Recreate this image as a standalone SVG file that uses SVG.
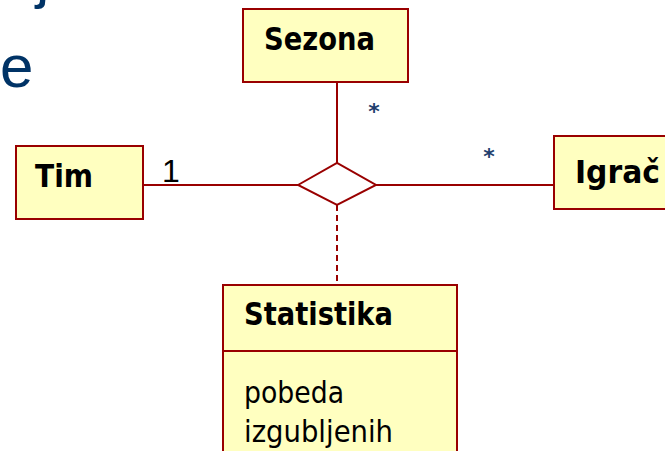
<svg xmlns="http://www.w3.org/2000/svg" width="665" height="451" viewBox="0 0 665 451">
<style>
.box{fill:#ffffc0;stroke:#990000;stroke-width:2}
.ln{stroke:#990000;stroke-width:2;fill:none}
.b{font-family:"DejaVu Sans",Verdana,sans-serif;font-weight:bold;font-size:32px;fill:#000}
.r{font-family:"DejaVu Sans",Verdana,sans-serif;font-size:30px;fill:#000}
.st{font-family:"DejaVu Sans",sans-serif;font-weight:bold;font-size:22px;fill:#1f3f6e;text-anchor:middle}
.big{font-family:"Liberation Sans",Arial,sans-serif;font-size:60px;fill:#003366}
</style>
<rect width="665" height="451" fill="#fff"/>
<text class="big" x="36" y="-3">j</text>
<text class="big" x="0" y="87">e</text>
<g id="connectors">
<line class="ln" x1="337" y1="82" x2="337" y2="163"/>
<line class="ln" x1="143" y1="185" x2="298" y2="185"/>
<line class="ln" x1="376" y1="185" x2="554" y2="185"/>
<line class="ln" x1="337" y1="205" x2="337" y2="285" stroke-dasharray="6,4"/>
<polygon class="ln" points="298,185 337,163 376,185 337,205" fill="#fff"/>
<text x="162" y="182" style="font-family:'Liberation Sans',Arial,sans-serif;font-size:32px;fill:#000">1</text>
<text class="st" x="374" y="119">*</text>
<text class="st" x="489" y="164">*</text>
</g>
<g id="sezona">
<rect class="box" x="243" y="9" width="165" height="73"/>
<text class="b" x="264" y="50" textLength="111" lengthAdjust="spacingAndGlyphs">Sezona</text>
</g>
<g id="tim">
<rect class="box" x="16" y="146" width="127" height="73"/>
<text class="b" x="35" y="187" textLength="58" lengthAdjust="spacingAndGlyphs">Tim</text>
</g>
<g id="igrac">
<rect class="box" x="554" y="136" width="120" height="73"/>
<text class="b" x="575" y="183" textLength="85" lengthAdjust="spacingAndGlyphs">Igrač</text>
</g>
<g id="statistika">
<rect class="box" x="223" y="285" width="234" height="180"/>
<line class="ln" x1="223" y1="351" x2="457" y2="351"/>
<text class="b" x="244" y="325" textLength="149" lengthAdjust="spacingAndGlyphs">Statistika</text>
<text class="r" x="244" y="403" textLength="100" lengthAdjust="spacingAndGlyphs">pobeda</text>
<text class="r" x="244" y="442" textLength="149" lengthAdjust="spacingAndGlyphs">izgubljenih</text>
</g>
</svg>
